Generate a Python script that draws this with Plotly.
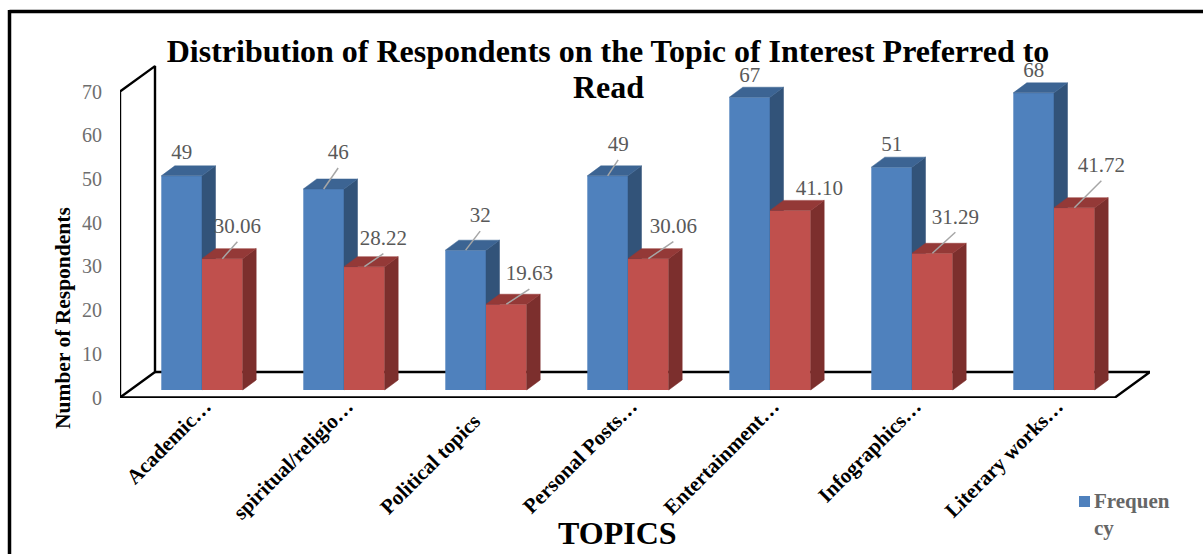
import plotly.graph_objects as go

# Chart data
topics = ["Academic…", "spiritual/religio…", "Political topics", "Personal Posts…",
          "Entertainment…", "Infographics…", "Literary works…"]
frequency = [49, 46, 32, 49, 67, 51, 68]
percentage = [30.06, 28.22, 19.63, 30.06, 41.10, 31.29, 41.72]
y_ticks = [0, 10, 20, 30, 40, 50, 60, 70]

# Canvas and plot geometry, in pixels
W, H = 1203, 554
PLOT_L, PLOT_R, PLOT_T, PLOT_B = 120, 1150, 60, 398
CAT0_PX, CAT_STEP = 202, 142
BASE_PX, WALL_BASE_PX, PX_PER_UNIT = 390, 397.5, 4.37

BAR_W = 40.7 / CAT_STEP
DEPTH_X = 13.5 / CAT_STEP
DEPTH_Y = 10 / PX_PER_UNIT

# Value label offsets from the top centre of each bar, in pixels (right, up)
freq_label_offset = [(0, 22), (14.5, 35), (14.5, 33), (10.5, 30), (0, 20), (0, 21), (0, 21)]
pct_label_offset = [(15, 31), (19, 27), (23, 29), (25, 31), (29, 21), (23, 35), (27, 41)]
freq_leader = [False, True, True, True, False, False, False]
pct_leader = [True, True, True, True, False, True, True]

# Labels without an ellipsis sit further down their diagonal
tick_padding = ["", "", "\u00a0" * 4, "", "", "", ""]


def px_to_cat(px):
    return (px - CAT0_PX) / CAT_STEP


def px_to_val(px):
    return (BASE_PX - px) / PX_PER_UNIT


def px_to_wall(px):
    return (WALL_BASE_PX - px) / PX_PER_UNIT


def paper_x(px):
    return (px - PLOT_L) / (PLOT_R - PLOT_L)


def paper_y(px):
    return (PLOT_B - px) / (PLOT_B - PLOT_T)


def add_series(fig, values, left_edge, front, side, top, name, yaxis, offsets, leaders):
    """One series of pseudo-3D columns: front faces, then depth faces, labels, leaders."""
    positions = list(range(len(values)))
    fig.add_trace(go.Bar(
        x=positions, y=values, width=BAR_W, offset=left_edge, name=name,
        marker=dict(color=front, line=dict(width=0)),
        yaxis=yaxis, showlegend=False, hoverinfo="x+y",
    ))
    sx, sy, tx, ty = [], [], [], []
    for i, v in zip(positions, values):
        l, r = i + left_edge, i + left_edge + BAR_W
        sx += [r, r + DEPTH_X, r + DEPTH_X, r, r, None]
        sy += [0, DEPTH_Y, v + DEPTH_Y, v, 0, None]
        tx += [l, l + DEPTH_X, r + DEPTH_X, r, l, None]
        ty += [v, v + DEPTH_Y, v + DEPTH_Y, v, v, None]
    for xs, ys, col in ((sx, sy, side), (tx, ty, top)):
        fig.add_trace(go.Scatter(x=xs, y=ys, mode="lines", fill="toself", fillcolor=col,
                                 line=dict(width=0.5, color=col), yaxis=yaxis,
                                 showlegend=False, hoverinfo="skip"))
    lx, ly, lt, gx, gy = [], [], [], [], []
    for i, v in zip(positions, values):
        c = i + left_edge + BAR_W / 2
        ox = c + offsets[i][0] / CAT_STEP
        oy = v + offsets[i][1] / PX_PER_UNIT
        lx.append(ox)
        ly.append(oy)
        lt.append(f"{v:.2f}" if isinstance(v, float) else str(v))
        if leaders[i]:
            gx += [c, ox, None]
            gy += [v, oy - 14 / PX_PER_UNIT, None]
    fig.add_trace(go.Scatter(x=gx, y=gy, mode="lines", line=dict(color="#A6A6A6", width=1.5),
                             yaxis=yaxis, showlegend=False, hoverinfo="skip"))
    fig.add_trace(go.Scatter(x=lx, y=ly, mode="text", text=lt, textposition="middle center",
                             textfont=dict(family="Liberation Serif", size=21, color="#595959"),
                             yaxis=yaxis, showlegend=False, hoverinfo="skip", cliponaxis=False))


fig = go.Figure()

# Open wall and floor of the 3D frame
wall_fx, wall_bx = px_to_cat(120), px_to_cat(155)
floor_fx, floor_bx = px_to_cat(1115), px_to_cat(1150)
back_rise = (397.5 - 372) / PX_PER_UNIT
fig.add_trace(go.Scatter(
    x=[wall_bx, wall_fx, wall_fx, wall_bx, wall_bx, None,
       wall_bx, floor_bx, floor_fx, wall_fx],
    y=[back_rise, 0, 70, 70 + back_rise, back_rise, None,
       back_rise, back_rise, 0, 0],
    mode="lines", line=dict(color="black", width=2.4), cliponaxis=False,
    showlegend=False, hoverinfo="skip",
))

# Each series sits on its own overlay so red fronts cover the blue depth faces
add_series(fig, frequency, -BAR_W, "#4F81BD", "#325379", "#3C6493", "Frequency", "y2",
           freq_label_offset, freq_leader)
add_series(fig, percentage, 0, "#C0504D", "#7C2F2D", "#943937", "Percentage", "y3",
           pct_label_offset, pct_leader)

bar_axis = dict(range=[px_to_val(PLOT_B), px_to_val(PLOT_T)], overlaying="y", visible=False)

fig.update_layout(
    width=W, height=H,
    margin=dict(l=PLOT_L, r=W - PLOT_R, t=PLOT_T, b=H - PLOT_B, autoexpand=False),
    paper_bgcolor="white", plot_bgcolor="rgba(0,0,0,0)",
    showlegend=False,
    font=dict(family="Liberation Serif"),
    title=dict(
        text="<b>Distribution of Respondents on the Topic of Interest Preferred to</b>",
        x=608 / W, xanchor="center", y=1 - 51 / H, yanchor="middle",
        font=dict(family="Liberation Serif", size=32, color="black"),
    ),
    xaxis=dict(
        range=[px_to_cat(PLOT_L), px_to_cat(PLOT_R)],
        tickmode="array", tickvals=list(range(len(topics))),
        ticktext=[f"<b>{t}{p}</b>" for t, p in zip(topics, tick_padding)],
        tickangle=-45, showgrid=False, zeroline=False, showline=False, ticks="",
        tickfont=dict(family="Liberation Serif", size=21, color="black"),
        ticklabelstandoff=-9, ticklabelshift=3,
    ),
    yaxis=dict(
        range=[px_to_wall(PLOT_B), px_to_wall(PLOT_T)],
        tickmode="array", tickvals=y_ticks, showgrid=False, zeroline=False, showline=False,
        ticks="", ticklabelstandoff=17,
        tickfont=dict(family="Liberation Serif", size=20, color="#6E6E6E"),
    ),
    yaxis2=bar_axis,
    yaxis3=bar_axis,
    shapes=[
        # Page border along the top and left edges
        dict(type="line", xref="paper", yref="paper", x0=paper_x(9.5), x1=paper_x(W),
             y0=paper_y(11.5), y1=paper_y(11.5), line=dict(color="black", width=3.5)),
        dict(type="line", xref="paper", yref="paper", x0=paper_x(9.5), x1=paper_x(9.5),
             y0=paper_y(10), y1=paper_y(H), line=dict(color="black", width=3.5)),
        # Legend swatch
        dict(type="rect", xref="paper", yref="paper", x0=paper_x(1079), x1=paper_x(1090),
             y0=paper_y(496), y1=paper_y(507), fillcolor="#4F81BD", line=dict(width=0)),
    ],
    annotations=[
        dict(text="<b>Read</b>", xref="paper", yref="paper",
             x=paper_x(608), y=paper_y(87), showarrow=False,
             xanchor="center", yanchor="middle",
             font=dict(family="Liberation Serif", size=32, color="black")),
        dict(text="<b>Number of Respondents</b>", xref="paper", yref="paper",
             x=paper_x(63), y=paper_y(318), textangle=-90, showarrow=False,
             xanchor="center", yanchor="middle",
             font=dict(family="Liberation Serif", size=21.5, color="black")),
        dict(text="<b>TOPICS</b>", xref="paper", yref="paper",
             x=paper_x(617), y=paper_y(533), showarrow=False,
             xanchor="center", yanchor="middle",
             font=dict(family="Liberation Serif", size=32, color="black")),
        dict(text="<b>Frequen<br>cy</b>", xref="paper", yref="paper",
             x=paper_x(1092), y=paper_y(514), showarrow=False, align="left",
             xanchor="left", yanchor="middle",
             font=dict(family="Liberation Serif", size=21, color="#666666")),
    ],
)

fig.write_html("out.html")
